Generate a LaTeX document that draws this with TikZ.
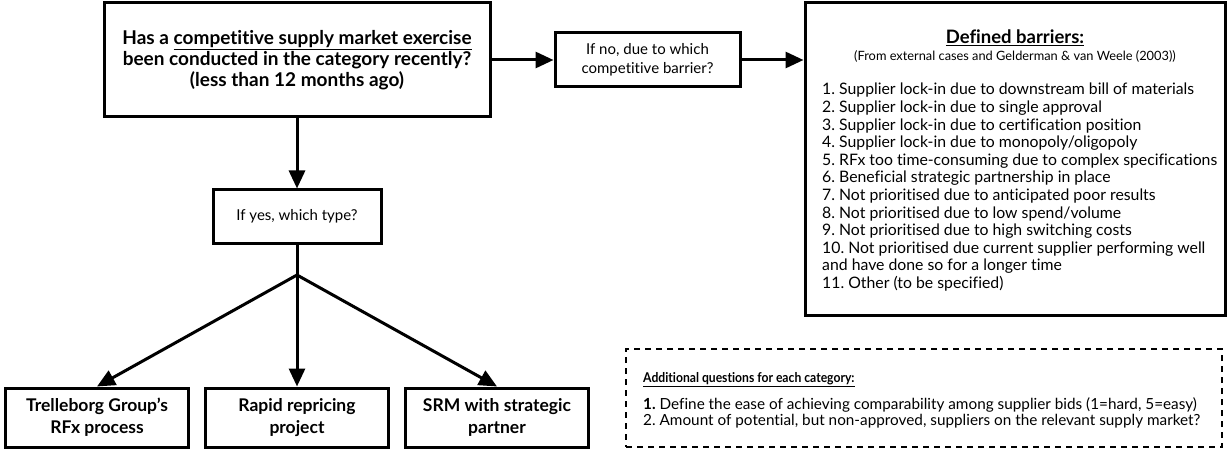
\documentclass[tikz,border=0pt]{standalone}
\usepackage{fontspec}
\setmainfont{Lato}[Ligatures=NoCommon]
\usetikzlibrary{arrows.meta}
\frenchspacing
\tikzset{
    >={Triangle[length=18pt,width=16pt]},
    box/.style={draw,line width=3pt,align=center,inner sep=0pt},
    question/.style={box,font=\fontsize{19}{21}\selectfont\bfseries},
    choice/.style={box,font=\fontsize{15}{19}\selectfont},
    option/.style={box,minimum width=183,minimum height=59,font=\fontsize{17.5}{22}\selectfont\bfseries},
    flow/.style={line width=3pt,->},
    listtext/.style={align=left,inner sep=0pt,font=\fontsize{15.8}{17.6}\selectfont},
    notes/.style={draw,line width=1.3pt,dash pattern=on 6pt off 5pt},
}
\begin{document}
\begin{tikzpicture}[x=1pt,y=-1pt]
    \useasboundingbox (0,0) rectangle (1228,449);

    % question and the two answers
    \node[question,minimum width=386,minimum height=114] (exercise) at (297,60)
        {Has a \underline{competitive supply market exercise}\\
         been conducted in the category recently?\\
         (less than 12 months ago)};
    \node[choice,minimum width=185,minimum height=54] (ifno) at (647.5,60)
        {If no, due to which\\competitive barrier?};
    \node[choice,minimum width=168,minimum height=53] (ifyes) at (297,216.5)
        {If yes, which type?};

    % barrier list
    \node[box,minimum width=420,minimum height=312] (barriers) at (1015,159) {};
    \node[font=\fontsize{18.5}{20}\selectfont\bfseries,inner sep=0pt] (bartitle) at (1015,38)
        {\underline{Defined barriers:}};
    \node[font=\fontsize{12.8}{16}\selectfont,inner sep=0pt] (barsource) at (1015,56)
        {(From external cases and Gelderman \& van Weele (2003))};
    \node[listtext,anchor=north west] (barlist) at (822,83)
        {1. Supplier lock-in due to downstream bill of materials\\
         2. Supplier lock-in due to single approval\\
         3. Supplier lock-in due to certification position\\
         4. Supplier lock-in due to monopoly/oligopoly\\
         5. RFx too time-consuming due to complex specifications\\
         6. Beneficial strategic partnership in place\\
         7. Not prioritised due to anticipated poor results\\
         8. Not prioritised due to low spend/volume\\
         9. Not prioritised due to high switching costs\\
         10. Not prioritised due current supplier performing well\\
         and have done so for a longer time\\
         11. Other (to be specified)};

    % types of exercise
    \node[option] (rfx) at (97,417.5) {Trelleborg Group's\\RFx process};
    \node[option] (repricing) at (297,417.5) {Rapid repricing\\project};
    \node[option] (srm) at (497,417.5) {SRM with strategic\\partner};
    \coordinate (split) at (297,275);

    % extra questions
    \node[notes,minimum width=596,minimum height=98] (extra) at (924,398) {};
    \node[font=\fontsize{13.5}{16}\selectfont\bfseries,inner sep=0pt,anchor=west] (extratitle) at (643,380)
        {\scalebox{0.9}[1]{\underline{Additional questions for each category:}}};
    \node[listtext,font=\fontsize{15.3}{16.5}\selectfont,anchor=north west] (extralist) at (643,397)
        {\textbf{1.} Define the ease of achieving comparability among supplier bids (1=hard, 5=easy)\\
         2. Amount of potential, but non-approved, suppliers on the relevant supply market?};

    \draw[flow] (exercise.east) -- (ifno.west);
    \draw[flow] (ifno.east) -- (ifno.east -| barriers.west);
    \draw[flow] (exercise.south) -- (ifyes.north);
    \draw[line width=3pt] (ifyes.south) -- (split);
    \draw[flow] (split) -- (rfx.north);
    \draw[flow] (split) -- (repricing.north);
    \draw[flow] (split) -- (srm.north);
\end{tikzpicture}
\end{document}
